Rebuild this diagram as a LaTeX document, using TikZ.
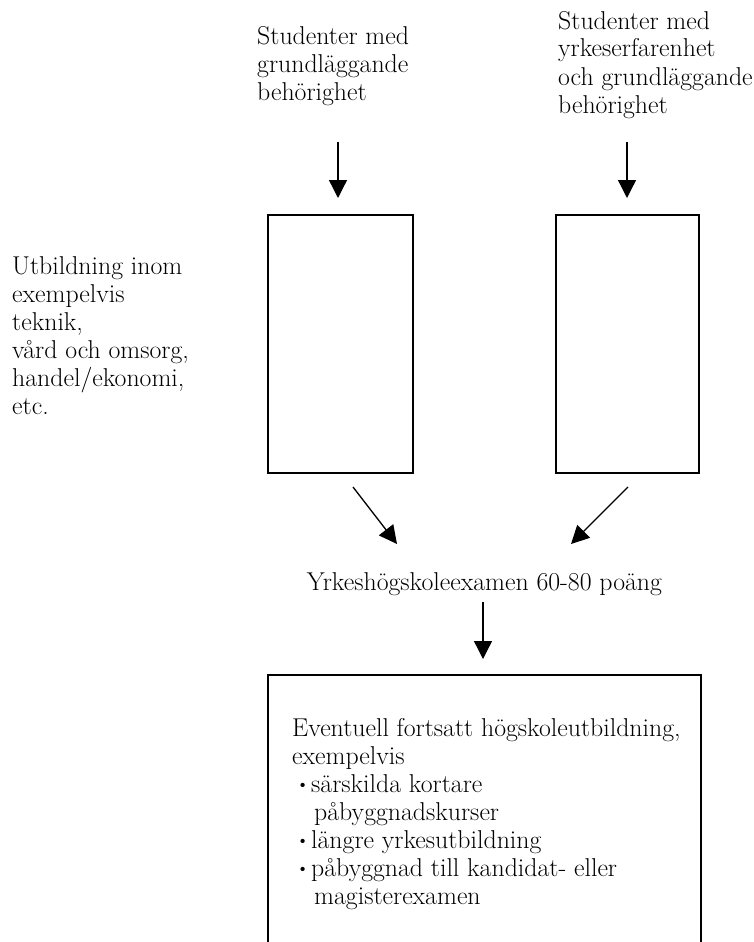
\documentclass[tikz,border=0pt]{standalone}
\usetikzlibrary{arrows.meta}
\newcommand{\mybul}{\hspace*{5pt}\makebox[11pt][c]{\raisebox{1.5pt}{\fontsize{19}{19}\selectfont\textbullet}}\hspace{3pt}}
\begin{document}
\begin{tikzpicture}[x=1pt,y=-1pt,
  txt/.style={inner sep=0pt,anchor=base west,align=left,font=\fontsize{25.8}{28}\selectfont},
  boxed/.style={draw,line width=1.5pt,inner sep=0pt,anchor=north west},
  arr/.style={line width=1.3pt,-{Triangle[length=18pt,width=18pt]}}]
\useasboundingbox (0,0) rectangle (753,942);
\clip (0,0) rectangle (753,942);
% texts (anchor = baseline of the last line)
\node[txt] (inA) at (257,100) {Studenter med\\grundläggande\\behörighet};
\node[txt] (inB) at (558,113) {Studenter med\\yrkeserfarenhet\\och grundläggande\\behörighet};
\node[txt] (areas) at (12,414) {Utbildning inom\\exempelvis\\teknik,\\vård och omsorg,\\handel/ekonomi,\\etc.};
% boxes
\node[boxed,minimum width=145pt,minimum height=258pt] (boxA) at (267,214) {};
\node[boxed,minimum width=143pt,minimum height=258pt] (boxB) at (555,214) {};
% exam
\node[txt,anchor=base] (exam) at (484.5,590) {Yrkeshögskoleexamen 60-80 poäng};
% bottom box
\node[boxed,minimum width=433pt,minimum height=320pt] (further) at (267,674) {};
\node[txt] (furthertext) at (292,904) {Eventuell fortsatt högskoleutbildning,\\exempelvis\\
\mybul särskilda kortare\\
\hspace*{22pt}påbyggnadskurser\\
\mybul längre yrkesutbildning\\
\mybul påbyggnad till kandidat- eller\\
\hspace*{22pt}magisterexamen};
% connector ends
\coordinate (a1) at (338,142);
\coordinate (b1) at (627,142);
\coordinate (a2) at (353,487);
\coordinate (a3) at (397,544);
\coordinate (b2) at (628,487);
\coordinate (b3) at (571,544);
\coordinate (e1) at (483,602);
% arrows
\draw[arr] (a1) -- ([yshift=16pt]a1 |- boxA.north);
\draw[arr] (b1) -- ([yshift=16pt]b1 |- boxB.north);
\draw[arr] (a2) -- (a3);
\draw[arr] (b2) -- (b3);
\draw[arr] (e1) -- ([yshift=15pt]e1 |- further.north);
\end{tikzpicture}
\end{document}
